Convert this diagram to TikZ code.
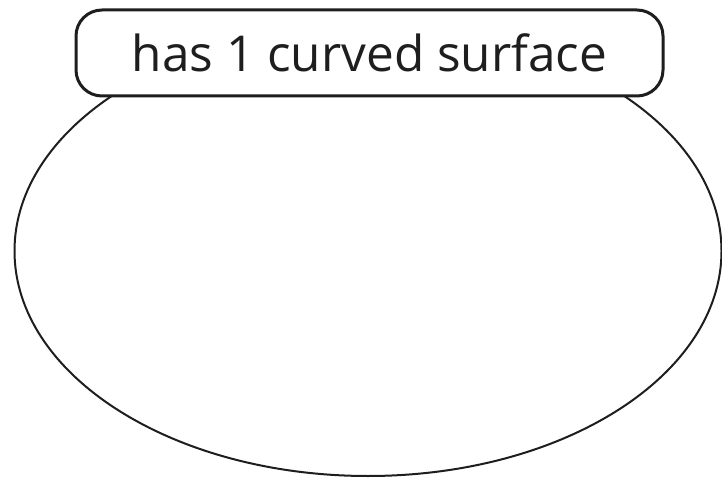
\documentclass[tikz,border=0pt]{standalone}
\usepackage{fontspec}
\setmainfont{Open Sans}
\definecolor{ink}{HTML}{1E1E1E}
\tikzset{
  blob/.style={draw=ink, line width=2pt},
  labelbox/.style={draw=ink, line width=3pt, fill=white, rounded corners=26pt,
    minimum width=587pt, minimum height=86pt, inner sep=0pt,
    font=\fontsize{49.5}{54}\selectfont, text=ink}
}
\begin{document}
\begin{tikzpicture}[x=1pt,y=1pt]
\useasboundingbox (0,0) rectangle (722,477);
\draw[blob] (368,226) ellipse [x radius=353.5, y radius=225];
\node[labelbox] (lbl) at (369.5,424) {has 1 curved surface};
\end{tikzpicture}
\end{document}
